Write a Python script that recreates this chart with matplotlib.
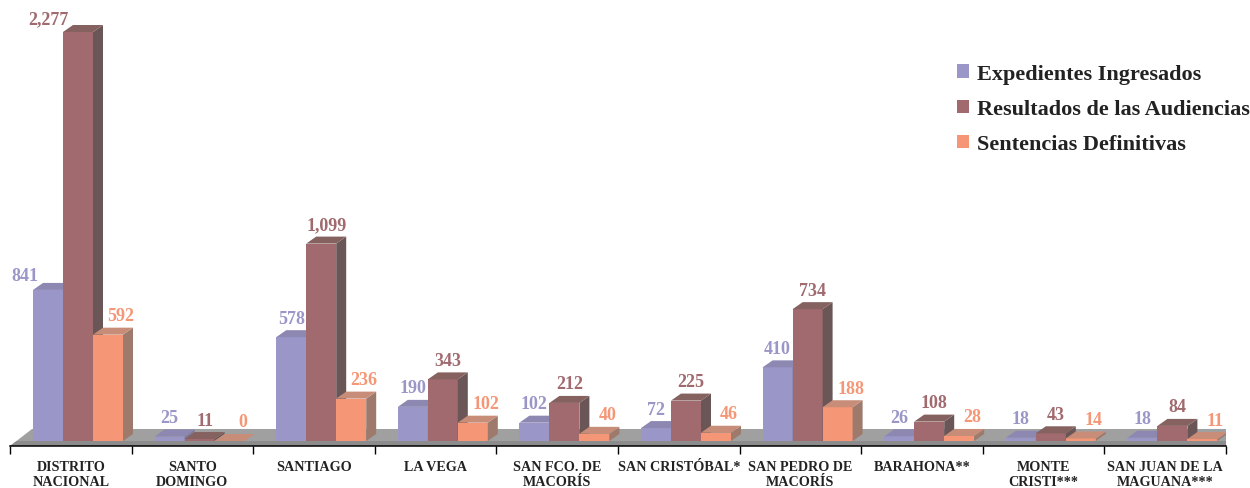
import matplotlib
matplotlib.use("Agg")
import matplotlib.pyplot as plt
from matplotlib.patches import Polygon, Patch

# datos por distrito judicial
distritos = ['DISTRITO\nNACIONAL', 'SANTO\nDOMINGO', 'SANTIAGO', 'LA VEGA',
             'SAN FCO. DE\nMACORÍS', 'SAN CRISTÓBAL*', 'SAN PEDRO DE\nMACORÍS',
             'BARAHONA**', 'MONTE\nCRISTI***', 'SAN JUAN DE LA\nMAGUANA***']
expedientes = [841, 25, 578, 190, 102, 72, 410, 26, 18, 18]
resultados = [2277, 11, 1099, 343, 212, 225, 734, 108, 43, 84]
sentencias = [592, 0, 236, 102, 40, 46, 188, 28, 14, 11]

series = [
    ("Expedientes Ingresados", expedientes, ('#9A96C8', '#8C88B2', '#7E7AA0')),
    ("Resultados de las Audiencias", resultados, ('#A06A6E', '#85625F', '#6B5657')),
    ("Sentencias Definitivas", sentencias, ('#F59676', '#C88D78', '#9E7A6C')),
]

FONT = 'Liberation Serif'
W, H = 1250, 489
fig = plt.figure(figsize=(W / 100, H / 100), dpi=100)

# eje: x en unidades de categoria, y en valores; y=0 a 442 px, eje inferior a 447 px
x0_px, x1_px = 10, 1226
base_px, axis_px = 442, 447
px_per_val = (442 - 33) / 2277.0
px_per_cat = (x1_px - x0_px) / len(distritos)
ymin = -(axis_px - base_px) / px_per_val
ymax = base_px / px_per_val
ax = fig.add_axes([x0_px / W, (H - axis_px) / H, (x1_px - x0_px) / W, axis_px / H])
ax.set_xlim(0, len(distritos))
ax.set_ylim(ymin, ymax)


def px_x(p):
    return p / px_per_cat


def px_y(p):
    return p / px_per_val


# piso gris en perspectiva
fdx, fdy = px_x(22), px_y(17)
n = len(distritos)
piso = Polygon([(0, ymin), (n, ymin), (n + fdx, ymin + fdy), (fdx, ymin + fdy)],
               closed=True, facecolor='#A0A0A0', edgecolor='none', zorder=1)
ax.add_patch(piso)
s = px_x(22 * 5 / 17)
borde = Polygon([(0, ymin), (n, ymin), (n + s, 0), (s, 0)],
                closed=True, facecolor='#8C8C8C', edgecolor='none', zorder=1.5)
ax.add_patch(borde)

# barras 3D
bdx, bdy = px_x(10), px_y(7)
bw = px_x(30)
start = px_x(23)
label_dx = [0, 5, 13]
label_dy = -19
nudges = {(0, 0): (-23, 5), (0, 1): (-35, 6)}

z = 2
for c in range(n):
    for i, (name, vals, (front, top, side)) in enumerate(series):
        v = vals[c]
        xl = c + start + i * bw
        xr = xl + bw
        ax.add_patch(Polygon([(xl, 0), (xr, 0), (xr, v), (xl, v)],
                             facecolor=front, edgecolor='none', zorder=z))
        ax.add_patch(Polygon([(xr, 0), (xr + bdx, bdy), (xr + bdx, v + bdy), (xr, v)],
                             facecolor=side, edgecolor='none', zorder=z))
        ax.add_patch(Polygon([(xl, v), (xr, v), (xr + bdx, v + bdy), (xl + bdx, v + bdy)],
                             facecolor=top, edgecolor='none', zorder=z))
        z += 0.01
        ndx, ndy = nudges.get((c, i), (0, 0))
        ax.annotate(f"{v:,}", xy=((xl + xr) / 2, v), xytext=(label_dx[i] + ndx, -(label_dy + ndy)),
                    textcoords='offset pixels', ha='center', va='center',
                    fontsize=13, fontweight='bold', family=FONT, color=front, zorder=10)

# eje y etiquetas de categoria
for sp in ['left', 'right', 'top']:
    ax.spines[sp].set_visible(False)
ax.spines['bottom'].set_linewidth(1.1)
ax.spines['bottom'].set_zorder(5)
ax.set_yticks([])
ax.set_xticks(range(n + 1))
ax.set_xticklabels([])
ax.tick_params(axis='x', which='major', length=5.8, width=1.0, direction='out')
ax.set_xticks([c + 0.5 for c in range(n)], minor=True)
ax.set_xticklabels(distritos, minor=True, fontsize=10.2, fontweight='bold',
                   family=FONT, linespacing=1.22, color='#222222')
ax.tick_params(axis='x', which='minor', length=0, pad=10)
ax.patch.set_visible(False)

# leyenda
handles = [Patch(facecolor=cols[0], edgecolor='none', label=name) for name, _, cols in series]
fig.legend(handles=handles, loc='upper left', bbox_to_anchor=(957 / W, 1 - 65 / H),
           frameon=False, prop={'family': FONT, 'weight': 'bold', 'size': 16},
           handlelength=0.55, handleheight=0.55, handletextpad=0.35,
           labelspacing=0.68, borderpad=0, borderaxespad=0, labelcolor='#222222')

fig.savefig("out.png", dpi=100)
